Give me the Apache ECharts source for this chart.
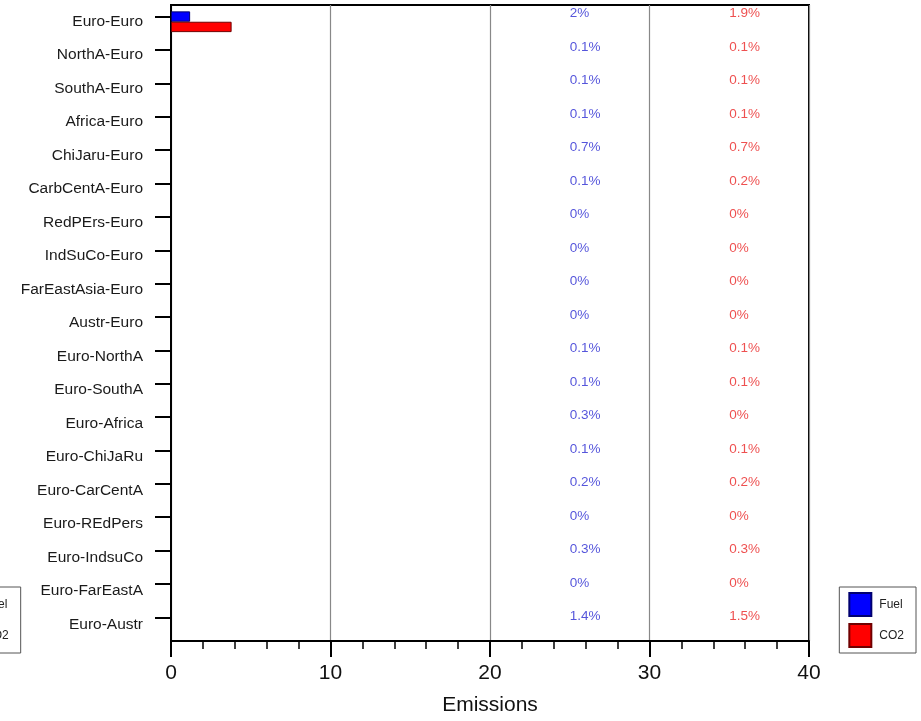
<!DOCTYPE html>
<html>
<head>
<meta charset="utf-8">
<script src="https://cdn.jsdelivr.net/npm/echarts@6/dist/echarts.min.js"></script>
<style>
  html, body { margin: 0; padding: 0; background: #fff; }
  #chart { width: 921px; height: 721px; }
</style>
</head>
<body>
<div id="chart"></div>
<script>
// Trade routes, top to bottom
const routes = [
  'Euro-Euro', 'NorthA-Euro', 'SouthA-Euro', 'Africa-Euro', 'ChiJaru-Euro',
  'CarbCentA-Euro', 'RedPErs-Euro', 'IndSuCo-Euro', 'FarEastAsia-Euro', 'Austr-Euro',
  'Euro-NorthA', 'Euro-SouthA', 'Euro-Africa', 'Euro-ChiJaRu', 'Euro-CarCentA',
  'Euro-REdPers', 'Euro-IndsuCo', 'Euro-FarEastA', 'Euro-Austr'
];

// Emissions per route
const fuelValues = [1.2, 0, 0, 0, 0, 0, 0, 0, 0, 0, 0, 0, 0, 0, 0, 0, 0, 0, 0];
const co2Values  = [3.8, 0, 0, 0, 0, 0, 0, 0, 0, 0, 0, 0, 0, 0, 0, 0, 0, 0, 0];

// Share of total, printed in two columns
const fuelShare = ['2%', '0.1%', '0.1%', '0.1%', '0.7%', '0.1%', '0%', '0%', '0%', '0%',
                   '0.1%', '0.1%', '0.3%', '0.1%', '0.2%', '0%', '0.3%', '0%', '1.4%'];
const co2Share  = ['1.9%', '0.1%', '0.1%', '0.1%', '0.7%', '0.2%', '0%', '0%', '0%', '0%',
                   '0.1%', '0.1%', '0%', '0.1%', '0.2%', '0%', '0.3%', '0%', '1.5%'];

// x positions of the two share columns
const fuelShareX = 25;
const co2ShareX = 35;

const xTicks = { min: 0, max: 40, interval: 10 };

const FONT = '"Liberation Sans", Arial, Helvetica, sans-serif';

// empty routes get no bar (avoids a hairline outline at zero)
const barData = vals => vals.map(v => (v === 0 ? null : v));

function shareSeries(name, xPos, texts, color) {
  return {
    name: name,
    type: 'scatter',
    xAxisIndex: 0,
    yAxisIndex: 0,
    symbolSize: 0,
    silent: true,
    data: routes.map((r, i) => ({ value: [xPos, r], label: { formatter: texts[i] } })),
    label: {
      show: true,
      position: 'right',
      distance: 0,
      offset: [0, -8],
      color: color,
      fontFamily: FONT,
      fontSize: 13.5
    }
  };
}

function legendAt(pos) {
  return Object.assign({
    data: ['Fuel', 'CO2'],
    orient: 'vertical',
    top: 587,
    icon: 'rect',
    itemWidth: 22,
    itemHeight: 23,
    itemGap: 6,
    padding: [5, 12, 5, 9],
    borderColor: '#555',
    borderWidth: 1,
    selectedMode: false,
    textStyle: { fontFamily: FONT, fontSize: 12, color: '#222', padding: [0, 0, 0, 3] }
  }, pos);
}

const chart = echarts.init(document.getElementById('chart'), null, { renderer: 'canvas' });

chart.setOption({
  backgroundColor: '#fff',
  animation: false,
  legend: [legendAt({ right: 5 }), legendAt({ left: -56 })],
  grid: [
    { left: 171, right: 112, top: 5, bottom: 80, show: true, borderColor: '#000', borderWidth: 2, backgroundColor: 'transparent' },
    // carries the route tick marks, which sit a little above the band centres
    { left: 171, right: 112, top: -2, height: 636 }
  ],
  xAxis: [
    {
      type: 'value',
      gridIndex: 0,
      min: xTicks.min,
      max: xTicks.max,
      interval: xTicks.interval,
      name: 'Emissions',
      nameLocation: 'middle',
      nameGap: 54,
      nameTextStyle: { fontFamily: FONT, fontSize: 21, color: '#111' },
      axisLine: { show: true, lineStyle: { color: '#000', width: 2 } },
      axisTick: { show: true, inside: false, length: 16, lineStyle: { color: '#000', width: 2 } },
      minorTick: { show: true, splitNumber: 5, length: 8, lineStyle: { color: '#000', width: 1.5 } },
      axisLabel: { fontFamily: FONT, fontSize: 21, color: '#111', margin: 22 },
      splitLine: { show: true, lineStyle: { color: '#888', width: 1.2 } }
    },
    { type: 'value', gridIndex: 1, show: false, min: 0, max: 40 }
  ],
  yAxis: [
    {
      type: 'category',
      gridIndex: 0,
      inverse: true,
      data: routes,
      axisLine: { show: true, lineStyle: { color: '#000', width: 2 } },
      axisTick: { show: false },
      axisLabel: { fontFamily: FONT, fontSize: 15.5, color: '#1a1a1a', margin: 28 },
      splitLine: { show: false }
    },
    {
      type: 'category',
      gridIndex: 1,
      inverse: true,
      data: routes,
      axisLine: { show: false },
      axisTick: { show: true, alignWithLabel: true, inside: false, length: 16, lineStyle: { color: '#000', width: 2 } },
      axisLabel: { show: false },
      splitLine: { show: false }
    }
  ],
  series: [
    {
      name: 'Fuel',
      type: 'bar',
      xAxisIndex: 0,
      yAxisIndex: 0,
      data: barData(fuelValues),
      barGap: '0%',
      barCategoryGap: '38%',
      itemStyle: { color: '#0000ff', borderColor: '#000070', borderWidth: 1 }
    },
    {
      name: 'CO2',
      type: 'bar',
      xAxisIndex: 0,
      yAxisIndex: 0,
      data: barData(co2Values),
      barGap: '0%',
      barCategoryGap: '38%',
      itemStyle: { color: '#ff0000', borderColor: '#700000', borderWidth: 1 }
    },
    shareSeries('Fuel share', fuelShareX, fuelShare, '#2a2ad2'),
    shareSeries('CO2 share', co2ShareX, co2Share, '#ea2424')
  ]
});
</script>
</body>
</html>
